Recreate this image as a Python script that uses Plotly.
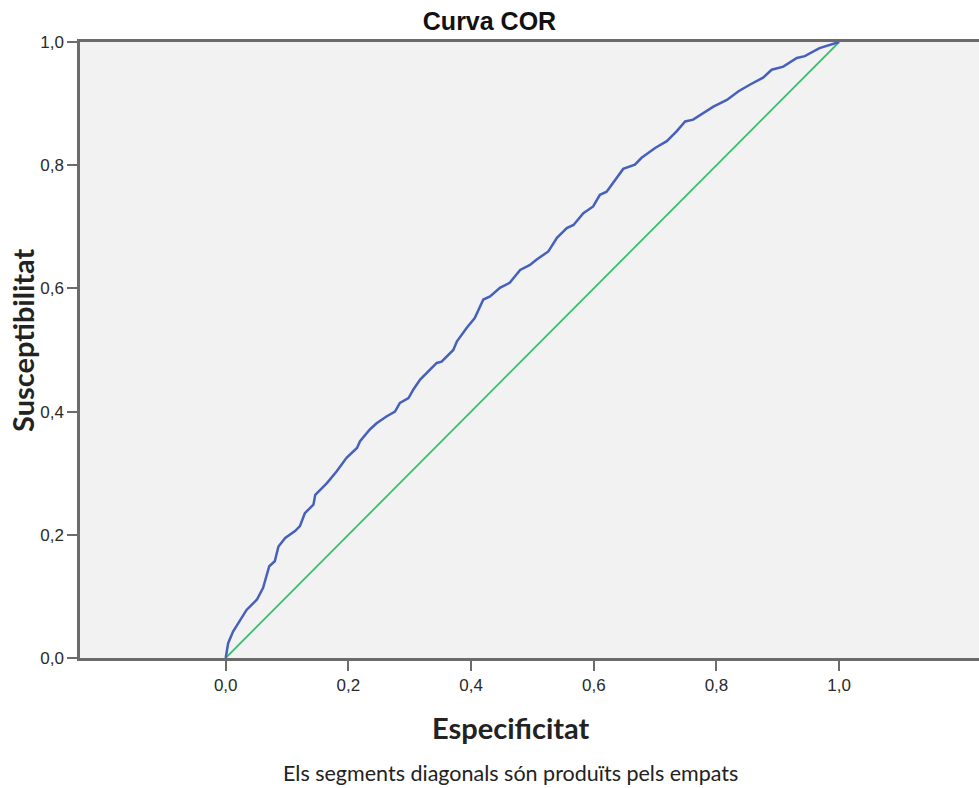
import plotly.graph_objects as go

# ROC curve points (1 - specificity on x, sensitivity on y)
roc_x = [0.000, 0.004, 0.012, 0.026, 0.034, 0.051, 0.061, 0.071, 0.080, 0.086,
         0.097, 0.113, 0.121, 0.129, 0.143, 0.146, 0.165, 0.181, 0.197, 0.214,
         0.219, 0.235, 0.246, 0.262, 0.276, 0.284, 0.298, 0.306, 0.317, 0.344,
         0.352, 0.371, 0.377, 0.393, 0.406, 0.420, 0.431, 0.447, 0.463, 0.480,
         0.496, 0.507, 0.526, 0.540, 0.556, 0.567, 0.583, 0.599, 0.610, 0.621,
         0.635, 0.648, 0.667, 0.678, 0.700, 0.719, 0.735, 0.749, 0.762, 0.795,
         0.817, 0.836, 0.855, 0.876, 0.890, 0.909, 0.931, 0.944, 0.968, 0.990,
         1.000]
roc_y = [0.000, 0.024, 0.043, 0.065, 0.078, 0.095, 0.114, 0.149, 0.157, 0.181,
         0.195, 0.206, 0.214, 0.235, 0.249, 0.265, 0.284, 0.303, 0.325, 0.341,
         0.352, 0.371, 0.381, 0.392, 0.400, 0.414, 0.422, 0.436, 0.452, 0.479,
         0.481, 0.500, 0.514, 0.536, 0.552, 0.582, 0.587, 0.601, 0.609, 0.630,
         0.638, 0.647, 0.660, 0.682, 0.698, 0.703, 0.722, 0.733, 0.752, 0.757,
         0.776, 0.794, 0.801, 0.812, 0.828, 0.839, 0.855, 0.871, 0.874, 0.895,
         0.906, 0.920, 0.931, 0.942, 0.955, 0.960, 0.974, 0.977, 0.990, 0.997,
         1.000]

# Reference line (chance)
ref_x = [0.0, 1.0]
ref_y = [0.0, 1.0]

tick_vals = [0.0, 0.2, 0.4, 0.6, 0.8, 1.0]
tick_text = ["0,0", "0,2", "0,4", "0,6", "0,8", "1,0"]

fig = go.Figure()
fig.add_trace(go.Scatter(x=ref_x, y=ref_y, mode="lines",
                         line=dict(color="#35c26c", width=1.8),
                         hoverinfo="skip", showlegend=False))
fig.add_trace(go.Scatter(x=roc_x, y=roc_y, mode="lines",
                         line=dict(color="#4561bd", width=2.5, shape="linear"),
                         showlegend=False))

axis_font = dict(family="Liberation Sans, Arial, sans-serif", size=17, color="#2a2a2a")
label_font = "Lato, Open Sans, sans-serif"

fig.update_layout(
    width=979, height=788,
    margin=dict(l=80, r=0, t=42, b=130),
    paper_bgcolor="white",
    plot_bgcolor="#f2f2f2",
    title=dict(text="<b>Curva COR</b>", x=0.5, xref="container", xanchor="center",
               y=1 - 21 / 788, yref="container", yanchor="middle",
               font=dict(family="Liberation Sans, Arial, sans-serif", size=25, color="#111111")),
    xaxis=dict(range=[-0.2375, 1.228], tickvals=tick_vals, ticktext=tick_text,
               showgrid=False, zeroline=False, showline=True, linecolor="#6b6b6b",
               linewidth=2.5, mirror=True, ticks="outside", ticklen=10, tickwidth=2,
               tickcolor="#6b6b6b", tickfont=axis_font),
    yaxis=dict(range=[0, 1], tickvals=tick_vals, ticktext=tick_text,
               showgrid=False, zeroline=False, showline=True, linecolor="#6b6b6b",
               linewidth=2.5, ticks="outside", ticklen=10, tickwidth=2,
               tickcolor="#6b6b6b", tickfont=axis_font),
    annotations=[
        dict(text="<b>Especificitat</b>", xref="paper", yref="paper",
             x=(511 - 80) / 899, y=-70 / 616, xanchor="center", yanchor="middle",
             showarrow=False,
             font=dict(family=label_font, size=29, color="#222222")),
        dict(text="Els segments diagonals són produïts pels empats", xref="paper", yref="paper",
             x=(510 - 80) / 899, y=-115 / 616, xanchor="center", yanchor="middle",
             showarrow=False,
             font=dict(family=label_font, size=21.5, color="#222222")),
        dict(text="<b>Susceptibilitat</b>", xref="paper", yref="paper",
             x=-58 / 899, y=(658 - 340) / 616, xanchor="center", yanchor="middle",
             textangle=-90, showarrow=False,
             font=dict(family=label_font, size=29, color="#222222")),
    ],
)

fig.write_html("out.html")
